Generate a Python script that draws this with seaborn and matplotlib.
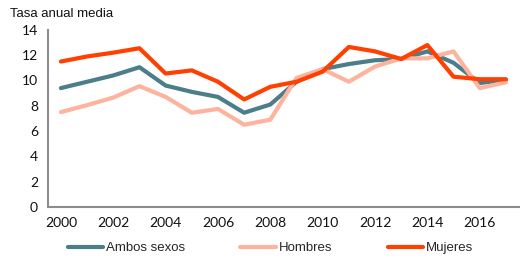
import numpy as np
import pandas as pd
import matplotlib
matplotlib.use("Agg")
import matplotlib.pyplot as plt
import seaborn as sns
from matplotlib.ticker import FixedLocator

# Data
years = list(range(2000, 2018))
ambos = [9.4, 9.9, 10.4, 11.05, 9.6, 9.1, 8.7, 7.45, 8.1, 9.9,
         10.9, 11.3, 11.6, 11.7, 12.3, 11.4, 9.8, 10.05]
hombres = [7.5, 8.05, 8.65, 9.55, 8.7, 7.45, 7.75, 6.5, 6.9, 10.2,
           10.9, 9.9, 11.1, 11.75, 11.75, 12.3, 9.4, 9.85]
mujeres = [11.5, 11.9, 12.2, 12.55, 10.55, 10.8, 9.9, 8.5, 9.5, 9.9,
           10.7, 12.65, 12.3, 11.7, 12.8, 10.3, 10.1, 10.1]
series_names = ["Ambos sexos", "Hombres", "Mujeres"]
palette = {"Ambos sexos": "#4b7d8a", "Hombres": "#fdb39d", "Mujeres": "#ff4000"}
year_labels = list(range(2000, 2017, 2))

df = pd.DataFrame({"year": years, "Ambos sexos": ambos,
                   "Hombres": hombres, "Mujeres": mujeres})
long_df = df.melt(id_vars="year", var_name="serie", value_name="tasa")

sns.set_style("white")
plt.rcParams["font.family"] = ["Liberation Sans", "DejaVu Sans"]

fig = plt.figure(figsize=(5.2, 2.6), dpi=100)
ax = fig.add_axes([0.092, 0.204, 0.906, 0.681])

sns.lineplot(data=long_df, x="year", y="tasa", hue="serie",
             hue_order=series_names, palette=palette, linewidth=3.0,
             ax=ax, legend=False)

ax.set_xlim(years[0] - 0.5, years[-1] + 0.5)
ax.set_ylim(0, 14)
ax.set_yticks(range(0, 15, 2))
ax.set_xlabel("")
ax.set_ylabel("")

# category-style axis: ticks between years, labels on even years
ax.xaxis.set_major_locator(FixedLocator(np.arange(years[0] - 0.5, years[-1] + 1, 1)))
ax.xaxis.set_minor_locator(FixedLocator(year_labels))
ax.set_xticklabels([])
ax.set_xticklabels([str(y) for y in year_labels], minor=True)
ax.tick_params(axis="x", which="major", direction="out", length=4,
               color="#8c8c8c", width=1)
ax.tick_params(axis="x", which="minor", length=0, pad=7)
ax.tick_params(axis="y", direction="out", length=4, color="#8c8c8c",
               width=1, pad=3)
for lab in ax.get_xticklabels(minor=True) + ax.get_yticklabels():
    lab.set_fontfamily(["Lato", "DejaVu Sans"])
    lab.set_fontsize(10)
    lab.set_color("#111111")

for side in ["top", "right"]:
    ax.spines[side].set_visible(False)
for side in ["left", "bottom"]:
    ax.spines[side].set_color("#8c8c8c")
    ax.spines[side].set_linewidth(1.5)

fig.text(0.019, 0.935, "Tasa anual media", fontsize=9.5, color="#111111")

handles = [plt.Line2D([], [], color=palette[n], linewidth=3.0) for n in series_names]
fig.legend(handles, series_names, loc="center", bbox_to_anchor=(0.52, 0.045),
           ncol=3, frameon=False, handlelength=2.7, handletextpad=0.2,
           columnspacing=4.2, prop={"size": 9.5})

fig.savefig("out.png", dpi=100)
